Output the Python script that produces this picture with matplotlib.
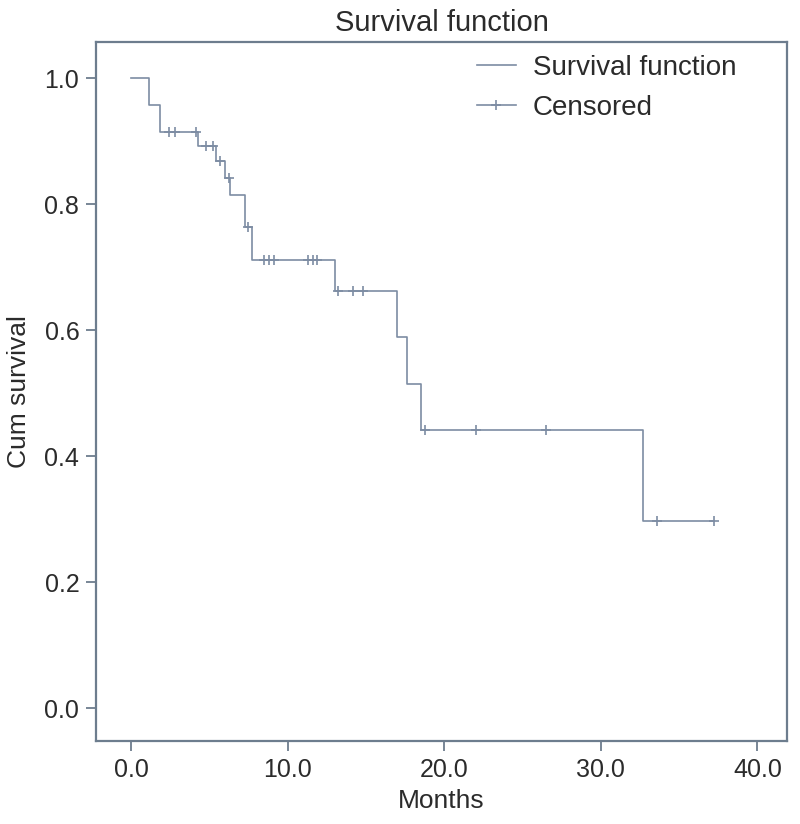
import numpy as np
import matplotlib
matplotlib.use('Agg')
import matplotlib.pyplot as plt
from matplotlib.lines import Line2D

plt.rcParams['font.family'] = ['Liberation Sans', 'DejaVu Sans']

# step points of the survival curve (months, cum survival after the drop)
event_months = [0.0, 1.15, 1.85, 4.25, 5.4, 6.0, 6.3, 7.25, 7.7, 13.0, 17.0, 17.6, 18.5, 32.7]
event_surv = [1.0, 0.958, 0.915, 0.892, 0.869, 0.842, 0.815, 0.764, 0.712, 0.662, 0.589, 0.514, 0.441, 0.297]
last_month = 37.2

# censored cases
cens_months = [2.4, 2.8, 4.15, 4.8, 5.25, 5.7, 6.25, 7.45,
               8.5, 8.8, 9.1, 11.3, 11.6, 11.9,
               13.2, 14.2, 14.8, 18.8, 22.0, 26.5, 33.6, 37.2]
cens_surv = [0.915, 0.915, 0.915, 0.892, 0.892, 0.869, 0.842, 0.764,
             0.712, 0.712, 0.712, 0.712, 0.712, 0.712,
             0.662, 0.662, 0.662, 0.441, 0.441, 0.441, 0.297, 0.297]

xticks = [0, 10, 20, 30, 40]
yticks = [0.0, 0.2, 0.4, 0.6, 0.8, 1.0]

line_col = '#7d8ca3'
frame_col = '#6d7d8e'
text_col = '#2b2b2b'

fig = plt.figure(figsize=(8, 8.24), dpi=100)
ax = fig.add_axes([0.12, 0.1007, 0.864, 0.848])

x = event_months + [last_month]
y = event_surv + [event_surv[-1]]
ax.step(x, y, where='post', color=line_col, lw=1.2)
ax.plot(cens_months, cens_surv, ls='none', marker='+', ms=7, mew=1.2, color=line_col)

ax.set_xlim(-2.24, 41.9)
ax.set_ylim(-0.052, 1.057)
ax.set_xticks(xticks)
ax.set_xticklabels(['%.1f' % v for v in xticks])
ax.set_yticks(yticks)
ax.set_yticklabels(['%.1f' % v for v in yticks])

for s in ax.spines.values():
    s.set_color(frame_col)
    s.set_linewidth(1.6)
ax.tick_params(direction='out', length=7, width=1.3, color=frame_col,
               labelsize=18, labelcolor=text_col, pad=5)

ax.set_xlabel('Months', fontsize=19, color=text_col, labelpad=5)
ax.set_ylabel('Cum survival', fontsize=19, color=text_col, labelpad=10)
ax.set_title('Survival function', fontsize=21, color=text_col, pad=8)

handles = [Line2D([], [], color=line_col, lw=1.2),
           Line2D([], [], color=line_col, lw=1.2, marker='+', ms=7, mew=1.2)]
ax.legend(handles, ['Survival function', 'Censored'], loc='upper left',
          bbox_to_anchor=(0.515, 1.018), frameon=False, fontsize=20,
          handlelength=1.4, handletextpad=0.6, labelspacing=0.5,
          labelcolor=text_col)

fig.savefig('out.png', dpi=100)
